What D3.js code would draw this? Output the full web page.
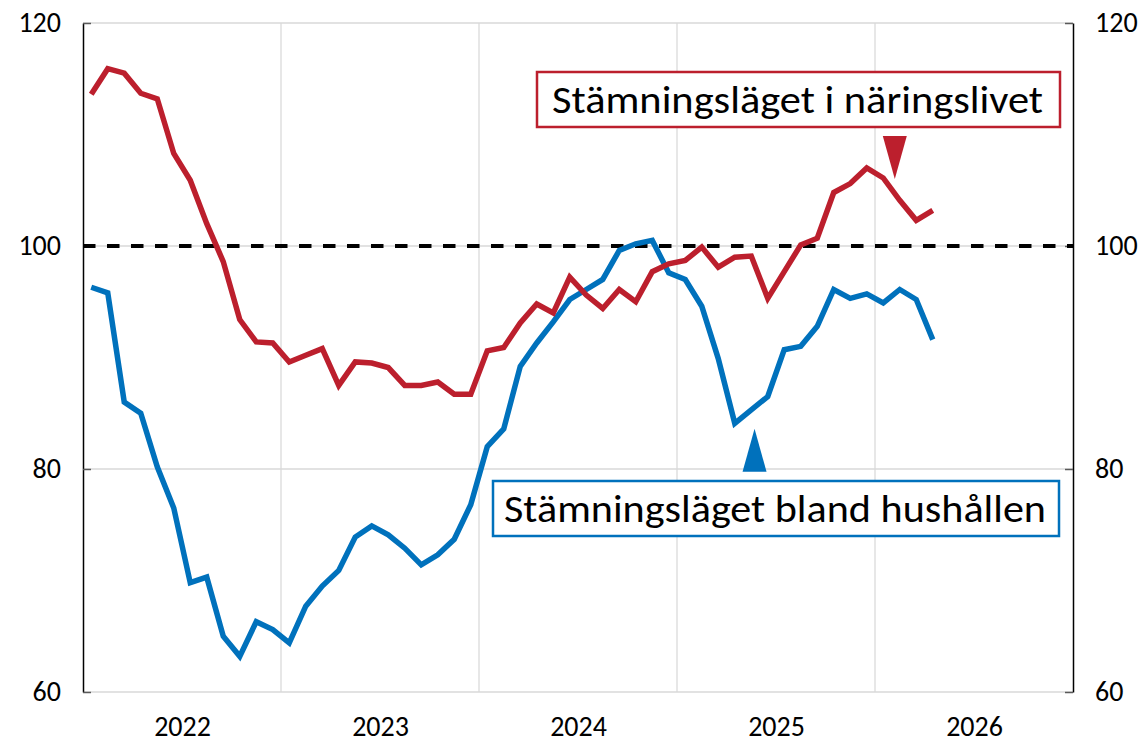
<!DOCTYPE html>
<html>
<head>
<meta charset="utf-8">
<script src="https://cdn.jsdelivr.net/npm/d3@7"></script>
<style>
  body { margin: 0; background: #fff; }
  text { font-family: Carlito, Calibri, Lato, sans-serif; fill: #000; }
</style>
</head>
<body>
<svg id="chart"></svg>
<script>
const WIDTH = 1145
const HEIGHT = 744
const MARGIN = { left: 83, right: 72, top: 23, bottom: 52 }

// monthly observations, first one is January 2022
const years = [2022, 2023, 2024, 2025, 2026]
const yTicks = [60, 80, 100, 120]

const business = [113.6, 115.9, 115.5, 113.7, 113.2, 108.3, 105.9, 102.0, 98.6, 93.4, 91.4, 91.3,
  89.6, 90.2, 90.8, 87.5, 89.6, 89.5, 89.1, 87.5, 87.5, 87.8, 86.7, 86.7,
  90.6, 90.9, 93.1, 94.8, 94.0, 97.2, 95.6, 94.4, 96.1, 95.0, 97.7, 98.4,
  98.7, 99.9, 98.1, 99.0, 99.1, 95.3, 97.7, 100.1, 100.7, 104.8, 105.6, 107.0,
  106.1, 104.1, 102.3, 103.2]

const households = [96.3, 95.8, 86.0, 85.0, 80.2, 76.5, 69.8, 70.3, 65.0, 63.2, 66.3, 65.6,
  64.4, 67.7, 69.5, 70.9, 73.9, 74.9, 74.1, 72.9, 71.4, 72.3, 73.7, 76.8,
  82.0, 83.6, 89.2, 91.3, 93.2, 95.2, 96.1, 97.0, 99.6, 100.2, 100.5, 97.6,
  97.0, 94.6, 89.9, 84.1, 85.3, 86.5, 90.7, 91.0, 92.8, 96.1, 95.3, 95.7,
  94.9, 96.1, 95.2, 91.6]

const businessLabel = "Stämningsläget i näringslivet"
const householdLabel = "Stämningsläget bland hushållen"

const RED = "#bc1f2d"
const BLUE = "#0071bc"

const svg = d3.select("#chart").attr("width", WIDTH).attr("height", HEIGHT)

const x = d3.scaleLinear()
  .domain([0, years.length * 12])
  .range([MARGIN.left, WIDTH - MARGIN.right])

const y = d3.scaleLinear()
  .domain([60, 120])
  .range([HEIGHT - MARGIN.bottom, MARGIN.top])

// grid
svg.append("g")
  .selectAll("line")
  .data(d3.range(1, years.length))
  .enter().append("line")
  .attr("x1", d => x(d * 12)).attr("x2", d => x(d * 12))
  .attr("y1", y(120)).attr("y2", y(60))
  .attr("stroke", "#cfcfcf").attr("stroke-width", 1)

svg.append("g")
  .selectAll("line")
  .data(yTicks)
  .enter().append("line")
  .attr("x1", x(0)).attr("x2", x(60))
  .attr("y1", d => y(d)).attr("y2", d => y(d))
  .attr("stroke", "#d9d9d9").attr("stroke-width", 1.5)

// axes
let leftAxis = d3.axisLeft(y).tickValues(yTicks).tickSizeInner(-8).tickSizeOuter(0).tickPadding(22)
let rightAxis = d3.axisRight(y).tickValues(yTicks).tickSizeInner(-8).tickSizeOuter(0).tickPadding(22)

function styleAxis(g) {
  g.select(".domain").attr("stroke", "#000").attr("stroke-width", 1.5)
  g.selectAll(".tick line").attr("stroke", "#595959").attr("stroke-width", 1.5)
  g.selectAll(".tick text").style("font-size", "28px").attr("fill", "#000")
}

svg.append("g").attr("transform", `translate(${x(0)},0)`).call(leftAxis).call(styleAxis)
svg.append("g").attr("transform", `translate(${x(60)},0)`).call(rightAxis).call(styleAxis)

let xAxis = d3.axisBottom(x)
  .tickValues(years.map((d, i) => i * 12 + 6))
  .tickFormat((d, i) => years[i])
  .tickSize(0).tickPadding(24)

svg.append("g").attr("transform", `translate(0,${y(60)})`).call(xAxis)
  .call(g => g.select(".domain").remove())
  .call(g => g.selectAll("text").style("font-size", "28px").attr("fill", "#000"))

// reference line at 100
svg.append("line")
  .attr("x1", x(0)).attr("x2", x(60))
  .attr("y1", y(100)).attr("y2", y(100))
  .attr("stroke", "#000").attr("stroke-width", 4)
  .attr("stroke-dasharray", "12.5,11.5")

// series
let line = d3.line().x((d, i) => x(i + 0.5)).y(d => y(d))

svg.append("path").datum(households)
  .attr("d", line).attr("fill", "none")
  .attr("stroke", BLUE).attr("stroke-width", 5.5)

svg.append("path").datum(business)
  .attr("d", line).attr("fill", "none")
  .attr("stroke", RED).attr("stroke-width", 5.5)

// annotations
function label(text, color, box, textBox) {
  svg.append("rect")
    .attr("x", box[0]).attr("y", box[1]).attr("width", box[2]).attr("height", box[3])
    .attr("fill", "#fff").attr("stroke", color).attr("stroke-width", 2.5)
  svg.append("text")
    .attr("x", textBox[0]).attr("y", textBox[1])
    .attr("textLength", textBox[2]).attr("lengthAdjust", "spacingAndGlyphs")
    .style("font-size", "38px")
    .text(text)
}

label(businessLabel, RED, [537, 72, 523, 55], [552, 113, 491])
label(householdLabel, BLUE, [493, 481, 566, 55], [504, 522, 542])

// arrow markers
let tipR = [x(49.2), y(106.0)]
svg.append("path")
  .attr("d", `M${tipR[0] - 12},${tipR[1] - 43}L${tipR[0] + 12},${tipR[1] - 43}L${tipR[0]},${tipR[1]}Z`)
  .attr("fill", RED)

let tipB = [x(40.7), y(83.6)]
svg.append("path")
  .attr("d", `M${tipB[0] - 12},${tipB[1] + 43}L${tipB[0] + 12},${tipB[1] + 43}L${tipB[0]},${tipB[1]}Z`)
  .attr("fill", BLUE)
</script>
</body>
</html>
